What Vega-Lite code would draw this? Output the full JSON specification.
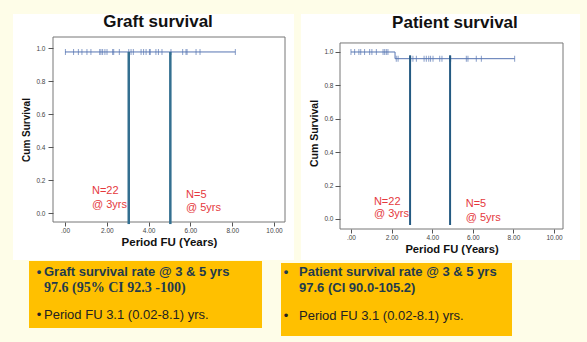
{
  "$schema": "https://vega.github.io/schema/vega-lite/v6.json",
  "background": "#fefde8",
  "padding": {"left": 12, "top": 12, "right": 0, "bottom": 0},
  "spacing": 0,
  "datasets": {
    "graftCurve": [{"t": 0, "s": 0.976}, {"t": 8.15, "s": 0.976}],
    "graftCensor": [
      {"t": 0.02, "s": 0.976}, {"t": 0.41, "s": 0.976}, {"t": 0.64, "s": 0.976}, {"t": 0.81, "s": 0.976},
      {"t": 1.05, "s": 0.976}, {"t": 1.24, "s": 0.976}, {"t": 1.66, "s": 0.976}, {"t": 1.72, "s": 0.976},
      {"t": 1.8, "s": 0.976}, {"t": 1.91, "s": 0.976}, {"t": 2.01, "s": 0.976}, {"t": 2.28, "s": 0.976},
      {"t": 2.33, "s": 0.976}, {"t": 2.6, "s": 0.976}, {"t": 3.05, "s": 0.976}, {"t": 3.16, "s": 0.976},
      {"t": 3.27, "s": 0.976}, {"t": 3.64, "s": 0.976}, {"t": 3.76, "s": 0.976}, {"t": 3.88, "s": 0.976},
      {"t": 4.04, "s": 0.976}, {"t": 4.08, "s": 0.976}, {"t": 4.35, "s": 0.976}, {"t": 4.47, "s": 0.976},
      {"t": 4.64, "s": 0.976}, {"t": 5.07, "s": 0.976}, {"t": 5.63, "s": 0.976}, {"t": 5.79, "s": 0.976},
      {"t": 5.84, "s": 0.976}, {"t": 6.27, "s": 0.976}, {"t": 6.46, "s": 0.976}, {"t": 8.15, "s": 0.976}
    ],
    "graftMarks": [{"t": 3.05, "s": 0.976}, {"t": 5.04, "s": 0.976}],
    "patientCurve": [{"t": 0, "s": 1.0}, {"t": 2.17, "s": 0.96}, {"t": 8.06, "s": 0.96}],
    "patientCensor": [
      {"t": 0.0, "s": 1.0}, {"t": 0.18, "s": 1.0}, {"t": 0.39, "s": 1.0}, {"t": 0.48, "s": 1.0},
      {"t": 0.67, "s": 1.0}, {"t": 0.92, "s": 1.0}, {"t": 1.03, "s": 1.0}, {"t": 1.25, "s": 1.0},
      {"t": 1.58, "s": 1.0}, {"t": 1.66, "s": 1.0}, {"t": 1.74, "s": 1.0}, {"t": 1.82, "s": 1.0},
      {"t": 2.23, "s": 0.96}, {"t": 2.32, "s": 0.96}, {"t": 2.94, "s": 0.96}, {"t": 3.05, "s": 0.96},
      {"t": 3.22, "s": 0.96}, {"t": 3.6, "s": 0.96}, {"t": 3.71, "s": 0.96}, {"t": 3.83, "s": 0.96},
      {"t": 3.92, "s": 0.96}, {"t": 4.04, "s": 0.96}, {"t": 4.37, "s": 0.96}, {"t": 4.48, "s": 0.96},
      {"t": 4.86, "s": 0.96}, {"t": 4.91, "s": 0.96}, {"t": 5.68, "s": 0.96}, {"t": 5.76, "s": 0.96},
      {"t": 6.17, "s": 0.96}, {"t": 6.42, "s": 0.96}, {"t": 8.06, "s": 0.96}
    ],
    "patientMarks": [{"t": 2.91, "s": 0.98}, {"t": 4.88, "s": 0.98}]
  },
  "vconcat": [
    {
      "spacing": 5,
      "hconcat": [
        {
          "width": 232,
          "height": 185,
          "layer": [
            {
              "data": {"values": [{"area": "panel"}]},
              "mark": {"type": "rect", "color": "#ffffff"},
              "encoding": {
                "x": {"datum": -2.488, "type": "quantitative", "scale": {"domain": [-0.574, 10.526], "nice": false, "zero": false},
                  "axis": {"zindex": 2, "values": [0, 2, 4, 6, 8, 10], "tickCount": 12, "labelExpr": "datum.value == 0 ? '.00' : format(datum.value, '.2f')", "title": "Period FU (Years)", "titleFontSize": 11.5, "titlePadding": 3, "labelPadding": 1, "tickSize": 4, "labelFlush": false, "labelOverlap": false}},
                "x2": {"datum": 10.957},
                "y": {"datum": -0.285, "type": "quantitative", "scale": {"domain": [-0.0545, 1.0667], "nice": false, "zero": false},
                  "axis": {"zindex": 2, "values": [0, 0.2, 0.4, 0.6, 0.8, 1.0], "tickCount": 12, "format": ".1f", "title": "Cum Survival", "titleFontSize": 10, "titlePadding": 4, "labelPadding": 3, "labelOverlap": false}},
                "y2": {"datum": 1.206}
              }
            },
            {
              "data": {"values": [{"label": "Graft survival"}]},
              "mark": {"type": "text", "align": "center", "baseline": "middle", "color": "#111111", "fontSize": 17, "fontWeight": "bold"},
              "encoding": {"x": {"datum": 4.45, "type": "quantitative"}, "y": {"datum": 1.158, "type": "quantitative"}, "text": {"field": "label"}}
            },
            {
              "data": {"values": [{"frame": "plot"}]},
              "mark": {"type": "rect", "filled": false, "stroke": "#777777", "strokeWidth": 1},
              "encoding": {"x": {"datum": -0.574, "type": "quantitative"}, "x2": {"datum": 10.526}, "y": {"datum": -0.0545, "type": "quantitative"}, "y2": {"datum": 1.0667}}
            },
            {
              "data": {"name": "graftCurve"},
              "mark": {"type": "line", "interpolate": "step-after", "color": "#5675b2", "strokeWidth": 1},
              "encoding": {"x": {"field": "t", "type": "quantitative"}, "y": {"field": "s", "type": "quantitative"}}
            },
            {
              "data": {"name": "graftCensor"},
              "mark": {"type": "tick", "orient": "vertical", "color": "#5675b2", "size": 6, "thickness": 1},
              "encoding": {"x": {"field": "t", "type": "quantitative"}, "y": {"field": "s", "type": "quantitative"}}
            },
            {
              "data": {"name": "graftMarks"},
              "mark": {"type": "rule", "color": "#336f90", "strokeWidth": 2.5},
              "encoding": {"x": {"field": "t", "type": "quantitative"}, "y": {"field": "s", "type": "quantitative"}, "y2": {"datum": -0.067}}
            },
            {
              "data": {"values": [{"label": "N=22"}]},
              "mark": {"type": "text", "align": "left", "baseline": "middle", "color": "#e5393d", "fontSize": 11},
              "encoding": {"x": {"datum": 1.29}, "y": {"datum": 0.133}, "text": {"field": "label"}}
            },
            {
              "data": {"values": [{"label": "@ 3yrs"}]},
              "mark": {"type": "text", "align": "left", "baseline": "middle", "color": "#e5393d", "fontSize": 11},
              "encoding": {"x": {"datum": 1.29}, "y": {"datum": 0.048}, "text": {"field": "label"}}
            },
            {
              "data": {"values": [{"label": "N=5"}]},
              "mark": {"type": "text", "align": "left", "baseline": "middle", "color": "#e5393d", "fontSize": 11},
              "encoding": {"x": {"datum": 5.79}, "y": {"datum": 0.109}, "text": {"field": "label"}}
            },
            {
              "data": {"values": [{"label": "@ 5yrs"}]},
              "mark": {"type": "text", "align": "left", "baseline": "middle", "color": "#e5393d", "fontSize": 11},
              "encoding": {"x": {"datum": 5.79}, "y": {"datum": 0.03}, "text": {"field": "label"}}
            }
          ]
        },
        {
          "width": 223,
          "height": 192,
          "layer": [
            {
              "data": {"values": [{"area": "panel"}]},
              "mark": {"type": "rect", "color": "#ffffff"},
              "encoding": {
                "x": {"datum": -2.463, "type": "quantitative", "scale": {"domain": [-0.54, 10.44], "nice": false, "zero": false},
                  "axis": {"zindex": 2, "values": [0, 2, 4, 6, 8, 10], "tickCount": 12, "labelExpr": "datum.value == 0 ? '.00' : format(datum.value, '.2f')", "title": "Period FU (Years)", "titleFontSize": 11.2, "titlePadding": 3, "labelPadding": 1, "tickSize": 4, "labelFlush": false, "labelOverlap": false}},
                "x2": {"datum": 11.281},
                "y": {"datum": -0.2455, "type": "quantitative", "scale": {"domain": [-0.0599, 1.0898], "nice": false, "zero": false},
                  "axis": {"zindex": 2, "values": [0, 0.2, 0.4, 0.6, 0.8, 1.0], "tickCount": 12, "format": ".1f", "title": "Cum Survival", "titleFontSize": 10.5, "titlePadding": 4, "labelPadding": 2, "labelOverlap": false}},
                "y2": {"datum": 1.2275}
              }
            },
            {
              "data": {"values": [{"label": "Patient survival"}]},
              "mark": {"type": "text", "align": "center", "baseline": "middle", "color": "#111111", "fontSize": 17, "fontWeight": "bold"},
              "encoding": {"x": {"datum": 5.12, "type": "quantitative"}, "y": {"datum": 1.171, "type": "quantitative"}, "text": {"field": "label"}}
            },
            {
              "data": {"values": [{"frame": "plot"}]},
              "mark": {"type": "rect", "filled": false, "stroke": "#777777", "strokeWidth": 1},
              "encoding": {"x": {"datum": -0.54, "type": "quantitative"}, "x2": {"datum": 10.44}, "y": {"datum": -0.0599, "type": "quantitative"}, "y2": {"datum": 1.054}}
            },
            {
              "data": {"name": "patientCurve"},
              "mark": {"type": "line", "interpolate": "step-after", "color": "#5675b2", "strokeWidth": 1},
              "encoding": {"x": {"field": "t", "type": "quantitative"}, "y": {"field": "s", "type": "quantitative"}}
            },
            {
              "data": {"name": "patientCensor"},
              "mark": {"type": "tick", "orient": "vertical", "color": "#5675b2", "size": 6, "thickness": 1},
              "encoding": {"x": {"field": "t", "type": "quantitative"}, "y": {"field": "s", "type": "quantitative"}}
            },
            {
              "data": {"name": "patientMarks"},
              "mark": {"type": "rule", "color": "#245a82", "strokeWidth": 2},
              "encoding": {"x": {"field": "t", "type": "quantitative"}, "y": {"field": "s", "type": "quantitative"}, "y2": {"datum": -0.036}}
            },
            {
              "data": {"values": [{"label": "N=22"}]},
              "mark": {"type": "text", "align": "left", "baseline": "middle", "color": "#e5393d", "fontSize": 11},
              "encoding": {"x": {"datum": 1.13}, "y": {"datum": 0.102}, "text": {"field": "label"}}
            },
            {
              "data": {"values": [{"label": "@ 3yrs"}]},
              "mark": {"type": "text", "align": "left", "baseline": "middle", "color": "#e5393d", "fontSize": 11},
              "encoding": {"x": {"datum": 1.13}, "y": {"datum": 0.03}, "text": {"field": "label"}}
            },
            {
              "data": {"values": [{"label": "N=5"}]},
              "mark": {"type": "text", "align": "left", "baseline": "middle", "color": "#e5393d", "fontSize": 11},
              "encoding": {"x": {"datum": 5.65}, "y": {"datum": 0.09}, "text": {"field": "label"}}
            },
            {
              "data": {"values": [{"label": "@ 5yrs"}]},
              "mark": {"type": "text", "align": "left", "baseline": "middle", "color": "#e5393d", "fontSize": 11},
              "encoding": {"x": {"datum": 5.65}, "y": {"datum": 0.006}, "text": {"field": "label"}}
            }
          ]
        }
      ]
    },
    {
      "width": 535,
      "height": 84,
      "view": {"stroke": null},
      "layer": [
        {
          "data": {"values": [{"box": "Graft survival"}]},
          "mark": {"type": "rect", "color": "#ffc000"},
          "encoding": {
            "x": {"datum": 28, "type": "quantitative", "scale": {"domain": [52, 587], "nice": false, "zero": false}, "axis": null},
            "x2": {"datum": 261},
            "y": {"datum": 258, "type": "quantitative", "scale": {"domain": [342, 258], "nice": false, "zero": false}, "axis": null},
            "y2": {"datum": 325}
          }
        },
        {
          "data": {"values": [{"box": "Patient survival"}]},
          "mark": {"type": "rect", "color": "#ffc000"},
          "encoding": {"x": {"datum": 280, "type": "quantitative"}, "x2": {"datum": 511}, "y": {"datum": 260, "type": "quantitative"}, "y2": {"datum": 333}}
        },
        {
          "data": {"values": [{"label": "•"}]},
          "mark": {"type": "text", "align": "center", "baseline": "middle", "color": "#1f3b4d", "fontSize": 13, "fontWeight": "bold"},
          "encoding": {"x": {"datum": 38, "type": "quantitative"}, "y": {"datum": 269, "type": "quantitative"}, "text": {"field": "label"}}
        },
        {
          "data": {"values": [{"label": "•"}]},
          "mark": {"type": "text", "align": "center", "baseline": "middle", "color": "#222222", "fontSize": 13},
          "encoding": {"x": {"datum": 38, "type": "quantitative"}, "y": {"datum": 312, "type": "quantitative"}, "text": {"field": "label"}}
        },
        {
          "data": {"values": [{"label": "Graft survival rate @  3 & 5 yrs"}]},
          "mark": {"type": "text", "align": "left", "baseline": "middle", "color": "#1f3b4d", "fontSize": 13, "fontWeight": "bold"},
          "encoding": {"x": {"datum": 43, "type": "quantitative"}, "y": {"datum": 269, "type": "quantitative"}, "text": {"field": "label"}}
        },
        {
          "data": {"values": [{"label": "97.6 (95% CI 92.3 -100)"}]},
          "mark": {"type": "text", "align": "left", "baseline": "middle", "color": "#1f3b4d", "fontSize": 14, "fontWeight": "bold", "font": "Liberation Serif"},
          "encoding": {"x": {"datum": 43, "type": "quantitative"}, "y": {"datum": 285, "type": "quantitative"}, "text": {"field": "label"}}
        },
        {
          "data": {"values": [{"label": "Period FU 3.1 (0.02-8.1) yrs."}]},
          "mark": {"type": "text", "align": "left", "baseline": "middle", "color": "#222222", "fontSize": 13},
          "encoding": {"x": {"datum": 43, "type": "quantitative"}, "y": {"datum": 312, "type": "quantitative"}, "text": {"field": "label"}}
        },
        {
          "data": {"values": [{"label": "•"}]},
          "mark": {"type": "text", "align": "center", "baseline": "middle", "color": "#1f3b4d", "fontSize": 13, "fontWeight": "bold"},
          "encoding": {"x": {"datum": 285, "type": "quantitative"}, "y": {"datum": 269, "type": "quantitative"}, "text": {"field": "label"}}
        },
        {
          "data": {"values": [{"label": "•"}]},
          "mark": {"type": "text", "align": "center", "baseline": "middle", "color": "#222222", "fontSize": 13},
          "encoding": {"x": {"datum": 285, "type": "quantitative"}, "y": {"datum": 313, "type": "quantitative"}, "text": {"field": "label"}}
        },
        {
          "data": {"values": [{"label": "Patient survival rate @ 3 & 5 yrs"}]},
          "mark": {"type": "text", "align": "left", "baseline": "middle", "color": "#1f3b4d", "fontSize": 13, "fontWeight": "bold"},
          "encoding": {"x": {"datum": 298, "type": "quantitative"}, "y": {"datum": 269, "type": "quantitative"}, "text": {"field": "label"}}
        },
        {
          "data": {"values": [{"label": "97.6 (CI 90.0-105.2)"}]},
          "mark": {"type": "text", "align": "left", "baseline": "middle", "color": "#1f3b4d", "fontSize": 13, "fontWeight": "bold"},
          "encoding": {"x": {"datum": 298, "type": "quantitative"}, "y": {"datum": 285, "type": "quantitative"}, "text": {"field": "label"}}
        },
        {
          "data": {"values": [{"label": "Period FU 3.1 (0.02-8.1) yrs."}]},
          "mark": {"type": "text", "align": "left", "baseline": "middle", "color": "#222222", "fontSize": 13},
          "encoding": {"x": {"datum": 298, "type": "quantitative"}, "y": {"datum": 313, "type": "quantitative"}, "text": {"field": "label"}}
        }
      ]
    }
  ],
  "config": {
    "font": "Liberation Sans",
    "view": {"stroke": null},
    "axis": {"labelFont": "Liberation Sans", "labelFontSize": 6.5, "labelColor": "#444444", "tickColor": "#555555", "tickSize": 5, "domain": false, "grid": false, "titleFont": "Liberation Sans", "titleFontWeight": "bold", "titleColor": "#111111"}
  }
}
